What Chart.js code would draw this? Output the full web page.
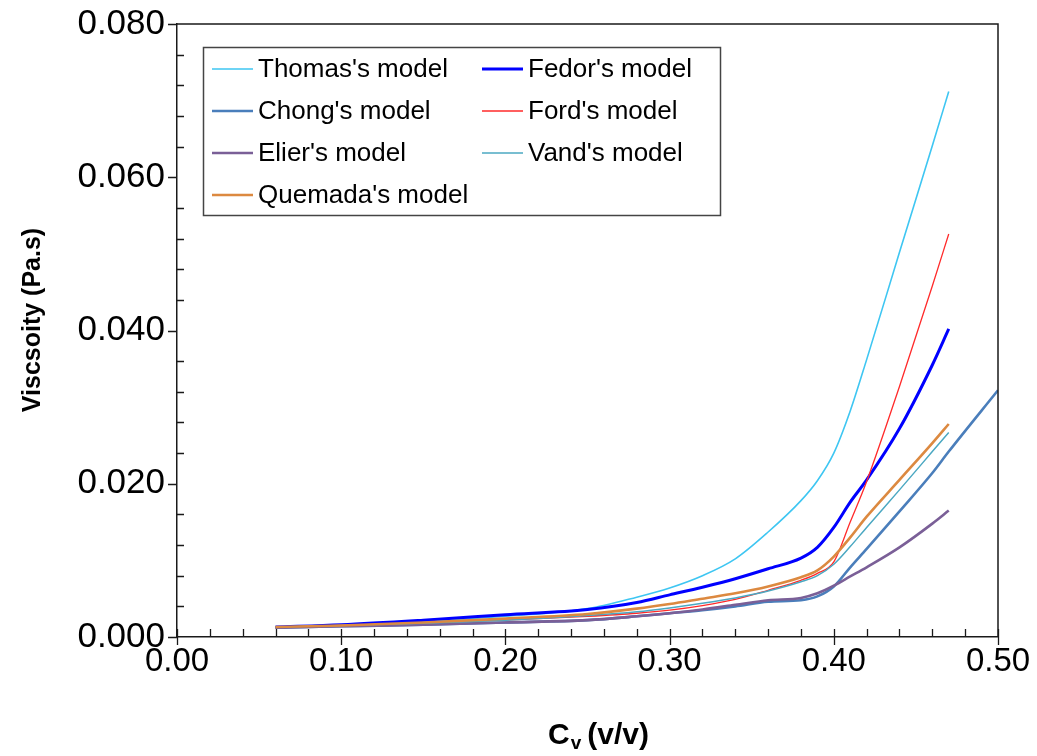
<!DOCTYPE html>
<html>
<head>
<meta charset="utf-8">
<script src="https://cdn.jsdelivr.net/npm/chart.js@4"></script>
<style>
  html, body { margin: 0; padding: 0; background: #fff; }
  canvas { display: block; }
</style>
</head>
<body>
<canvas id="chart" width="1037" height="756"></canvas>
<script>
// Volume concentration (v/v)
const cv = [0.06, 0.10, 0.15, 0.20, 0.25, 0.28, 0.30, 0.32, 0.34, 0.36, 0.38, 0.39, 0.40, 0.41, 0.42, 0.44, 0.46, 0.47, 0.50];

// Viscosity (Pa.s) predicted by each model
const thomas  = [0.0013, 0.0016, 0.0020, 0.0027, 0.0037, 0.0052, 0.0064, 0.0080, 0.0102, 0.0137, 0.0178, 0.0204, 0.0240, 0.0295, 0.0362, 0.0502, 0.0641, 0.0712, null];
const fedor   = [0.0013, 0.0016, 0.0022, 0.0029, 0.0036, 0.0045, 0.0055, 0.0065, 0.0076, 0.0089, 0.0103, 0.0117, 0.0143, 0.0176, 0.0205, 0.0272, 0.0355, 0.0402, null];
const chong   = [0.0012, 0.0014, 0.0016, 0.0019, 0.0022, 0.0027, 0.0031, 0.0035, 0.0040, 0.0046, 0.0048, 0.0053, 0.0066, 0.0091, 0.0115, 0.0164, 0.0214, 0.0242, 0.0322];
const ford    = [0.0013, 0.0015, 0.0018, 0.0022, 0.0027, 0.0031, 0.0035, 0.0041, 0.0049, 0.0061, 0.0074, 0.0083, 0.0098, 0.0150, 0.0203, 0.0327, 0.0458, 0.0526, null];
const elier   = [0.0012, 0.0014, 0.0016, 0.0019, 0.0022, 0.0027, 0.0031, 0.0036, 0.0042, 0.0048, 0.0051, 0.0057, 0.0067, 0.0079, 0.0091, 0.0117, 0.0148, 0.0165, null];
const vand    = [0.0013, 0.0015, 0.0018, 0.0022, 0.0028, 0.0033, 0.0038, 0.0044, 0.0051, 0.0060, 0.0072, 0.0080, 0.0095, 0.0118, 0.0143, 0.0192, 0.0242, 0.0267, null];
const quemada = [0.0013, 0.0015, 0.0019, 0.0024, 0.0030, 0.0037, 0.0043, 0.0050, 0.0057, 0.0066, 0.0078, 0.0087, 0.0105, 0.0130, 0.0157, 0.0205, 0.0253, 0.0278, null];

const seriesNames = ["Thomas's model", "Fedor's model", "Chong's model", "Ford's model", "Elier's model", "Vand's model", "Quemada's model"];
const seriesValues = [thomas, fedor, chong, ford, elier, vand, quemada];
const seriesColors = ['#3EC6F2', '#0000FF', '#4A7EBB', '#FF2A2A', '#7A5F97', '#4BA8C2', '#DC8940'];
const seriesWidths = [1.6, 3, 2.6, 1.3, 2.6, 1.5, 2.6];

// Axis ticks and titles
const xTicks = [0.00, 0.10, 0.20, 0.30, 0.40, 0.50];
const yTicks = [0.000, 0.020, 0.040, 0.060, 0.080];
const yTitle = 'Viscsoity (Pa.s)';
const xTitleMain = 'C', xTitleSub = 'v', xTitleUnit = '(v/v)';

const FONT = "'Liberation Sans', Arial, sans-serif";
const AXIS = '#1a1a1a';

const datasets = seriesNames.map((name, i) => ({
  label: name,
  data: cv.map((x, k) => ({ x: x, y: seriesValues[i][k] })).filter(p => p.y !== null),
  borderColor: seriesColors[i],
  backgroundColor: seriesColors[i],
  borderWidth: seriesWidths[i],
  pointRadius: 0,
  pointHoverRadius: 0,
  cubicInterpolationMode: 'monotone',
  fill: false,
  order: seriesNames.length - i
}));

// Plot frame plus Excel-style tick marks (major crossing/outside, minor inside)
const frameTicks = {
  id: 'frameTicks',
  afterDatasetsDraw(chart) {
    const { ctx, chartArea: a, scales: { x, y } } = chart;
    ctx.save();
    ctx.strokeStyle = AXIS;
    ctx.lineWidth = 1.5;
    ctx.beginPath();
    ctx.moveTo(a.left, a.top);
    ctx.lineTo(a.right, a.top);
    ctx.lineTo(a.right, a.bottom);
    ctx.stroke();

    ctx.lineWidth = 1.3;
    ctx.beginPath();
    for (let k = 0; k <= 25; k++) {
      const v = k * 0.02;
      const px = Math.round(x.getPixelForValue(v)) + 0.5;
      if (k % 5 === 0) { ctx.moveTo(px, a.bottom - 8); ctx.lineTo(px, a.bottom + 8); }
      else { ctx.moveTo(px, a.bottom - 8); ctx.lineTo(px, a.bottom); }
    }
    for (let k = 0; k <= 20; k++) {
      const v = k * 0.004;
      const py = Math.round(y.getPixelForValue(v)) + 0.5;
      if (k % 5 === 0) { ctx.moveTo(a.left - 9, py); ctx.lineTo(a.left, py); }
      else { ctx.moveTo(a.left, py); ctx.lineTo(a.left + 7, py); }
    }
    ctx.stroke();
    ctx.restore();
  }
};

// Axis titles: rotated y title and x title with a subscript
const axisTitles = {
  id: 'axisTitles',
  afterDraw(chart) {
    const { ctx } = chart;
    ctx.save();
    ctx.fillStyle = '#000';
    // y title
    ctx.translate(33, 320);
    ctx.rotate(-Math.PI / 2);
    ctx.font = 'bold 25px ' + FONT;
    ctx.textAlign = 'center';
    ctx.textBaseline = 'middle';
    ctx.fillText(yTitle, 0, 0);
    ctx.restore();

    ctx.save();
    ctx.fillStyle = '#000';
    ctx.textBaseline = 'alphabetic';
    ctx.textAlign = 'left';
    let xx = 548;
    const base = 744;
    ctx.font = 'bold 30px ' + FONT;
    ctx.fillText(xTitleMain, xx, base);
    xx += ctx.measureText(xTitleMain).width + 1;
    ctx.font = 'bold 19px ' + FONT;
    ctx.fillText(xTitleSub, xx, base + 5);
    xx += ctx.measureText(xTitleSub).width + 6;
    ctx.font = 'bold 30px ' + FONT;
    ctx.fillText(xTitleUnit, xx, base);
    ctx.restore();
  }
};

// Two-column boxed legend inside the plot
const boxLegend = {
  id: 'boxLegend',
  afterDraw(chart) {
    const { ctx } = chart;
    const box = { l: 203, t: 47, r: 720, b: 215 };
    const colLine = [212, 482];
    const colText = [258, 528];
    const rowY = [69, 111, 153, 195];
    ctx.save();
    ctx.fillStyle = '#fff';
    ctx.fillRect(box.l, box.t, box.r - box.l, box.b - box.t);
    ctx.strokeStyle = '#444';
    ctx.lineWidth = 1.5;
    ctx.strokeRect(box.l + 0.5, box.t + 0.5, box.r - box.l, box.b - box.t);
    ctx.font = '26px ' + FONT;
    ctx.textBaseline = 'middle';
    ctx.textAlign = 'left';
    chart.data.datasets.forEach((ds, i) => {
      const col = i % 2, row = Math.floor(i / 2);
      const yy = rowY[row];
      ctx.strokeStyle = ds.borderColor;
      ctx.lineWidth = ds.borderWidth;
      ctx.beginPath();
      ctx.moveTo(colLine[col], yy);
      ctx.lineTo(colLine[col] + 41, yy);
      ctx.stroke();
      ctx.fillStyle = '#000';
      ctx.fillText(ds.label, colText[col], yy + 1);
    });
    ctx.restore();
  }
};

new Chart(document.getElementById('chart'), {
  type: 'line',
  data: { datasets },
  plugins: [frameTicks, axisTitles, boxLegend],
  options: {
    responsive: false,
    animation: false,
    devicePixelRatio: 1,
    layout: { padding: { top: 24, right: 39, left: 0, bottom: 0 } },
    plugins: { legend: { display: false }, tooltip: { enabled: false } },
    scales: {
      x: {
        type: 'linear',
        min: 0, max: 0.5,
        afterFit(s) { s.height = 119; s.paddingLeft = 0; s.paddingRight = 0; },
        afterBuildTicks(s) { s.ticks = xTicks.map(v => ({ value: v })); },
        grid: { display: false, drawTicks: false },
        border: { display: true, color: AXIS, width: 1.5 },
        ticks: {
          color: '#000', padding: 5, maxRotation: 0, autoSkip: false,
          font: { family: FONT, size: 33 },
          callback: v => Number(v).toFixed(2)
        }
      },
      y: {
        type: 'linear',
        min: 0, max: 0.08,
        afterFit(s) { s.width = 177; s.paddingTop = 0; s.paddingBottom = 0; },
        afterBuildTicks(s) { s.ticks = yTicks.map(v => ({ value: v })); },
        grid: { display: false, drawTicks: false },
        border: { display: true, color: AXIS, width: 1.5 },
        ticks: {
          color: '#000', padding: 12,
          font: { family: FONT, size: 35 },
          callback: v => Number(v).toFixed(3)
        }
      }
    }
  }
});
</script>
</body>
</html>
